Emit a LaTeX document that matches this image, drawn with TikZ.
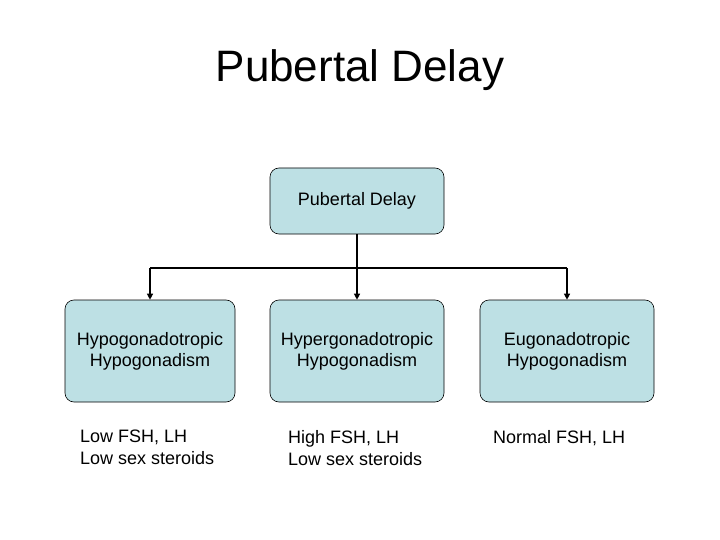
\documentclass[tikz,border=0pt]{standalone}
\usepackage{fontspec}
\setmainfont{Liberation Sans}
\usetikzlibrary{arrows.meta}
\definecolor{boxfill}{RGB}{189,224,228}
\begin{document}
\begin{tikzpicture}[x=1pt,y=-1pt,
  box/.style={draw=black,line width=0.6pt,fill=boxfill,rounded corners=9pt,align=center,font=\fontsize{18}{21}\selectfont,inner sep=0pt},
  note/.style={anchor=north west,align=left,font=\fontsize{18}{22}\selectfont,inner sep=0pt},
  conn/.style={line width=1.2pt,-{Triangle[length=6pt,width=6pt]}}]
\useasboundingbox (0,0) rectangle (720,540);
\node[font=\fontsize{44}{52}\selectfont] (title) at (360,70) {Pubertal Delay};
\node[box,minimum width=174pt,minimum height=66pt] (top) at (357,201) {Pubertal Delay};
\node[box,minimum width=170pt,minimum height=102pt] (b1) at (150,351) {Hypogonadotropic\\Hypogonadism};
\node[box,minimum width=174pt,minimum height=102pt] (b2) at (357,351) {Hypergonadotropic\\Hypogonadism};
\node[box,minimum width=174pt,minimum height=102pt] (b3) at (567,351) {Eugonadotropic\\Hypogonadism};
\node[note] (n1) at (80,430) {Low FSH, LH\\Low sex steroids};
\node[note] (n2) at (288,430) {High FSH, LH\\Low sex steroids};
\node[note] (n3) at (493,430) {Normal FSH, LH};
\coordinate (j) at (357,268);
\draw[line width=1.2pt] (top.south) -- (j);
\draw[line width=1.2pt] (b1.north |- j) -- (b3.north |- j);
\draw[conn] (b1.north |- j) -- (b1.north);
\draw[conn] (j) -- (b2.north);
\draw[conn] (b3.north |- j) -- (b3.north);
\end{tikzpicture}
\end{document}
